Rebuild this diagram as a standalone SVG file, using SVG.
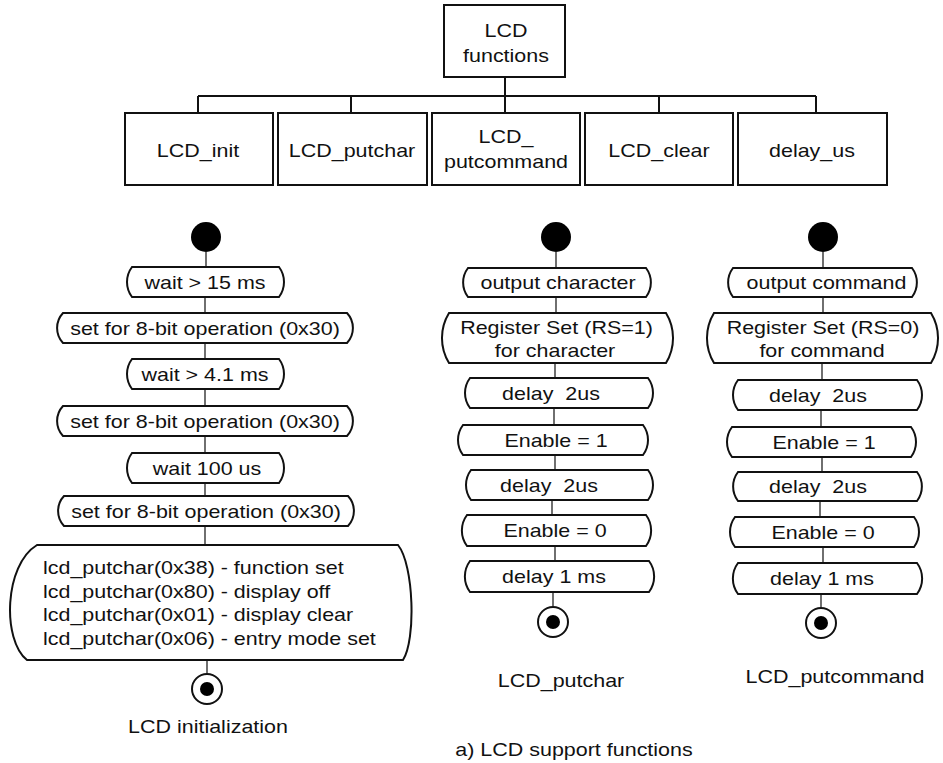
<svg xmlns="http://www.w3.org/2000/svg" width="943" height="763" viewBox="0 0 943 763">
  <style>
    text { font-family: "Liberation Sans", Arial, sans-serif; font-size: 19px; fill: #111; }
    .c { text-anchor: middle; }
    .box { fill: #fff; stroke: #111; stroke-width: 2; }
    .act { fill: #fff; stroke: #111; stroke-width: 2; }
    .link { fill: none; stroke: #111; stroke-width: 2; }
    .flow { fill: none; stroke: #111; stroke-width: 1.2; }
    .start { fill: #000; }
    .ring { fill: #fff; stroke: #111; stroke-width: 2; }
    .dot { fill: #000; }
  </style>

  <rect width="943" height="763" fill="#fff"/>

  <!-- hierarchy connectors -->
  <g id="tree-links">
    <path class="link" d="M505,77 V96 M198,96 H816 M198,96 V113 M351,96 V113 M505,96 V113 M659,96 V113 M816,96 V113"/>
  </g>

  <!-- hierarchy nodes -->
  <g id="lcd-functions">
    <rect class="box" x="444" y="5" width="121" height="72"/>
    <text class="c" transform="translate(506 37) scale(1.13 1)">LCD</text>
    <text class="c" transform="translate(506 61.5) scale(1.13 1)">functions</text>
  </g>
  <g id="lcd-init">
    <rect class="box" x="125" y="113" width="148" height="72"/>
    <text class="c" transform="translate(198 156.5) scale(1.13 1)">LCD_init</text>
  </g>
  <g id="lcd-putchar">
    <rect class="box" x="278" y="113" width="149" height="72"/>
    <text class="c" transform="translate(352 156.5) scale(1.13 1)">LCD_putchar</text>
  </g>
  <g id="lcd-putcommand">
    <rect class="box" x="432" y="113" width="148" height="72"/>
    <text class="c" transform="translate(506 142.5) scale(1.13 1)">LCD_</text>
    <text class="c" transform="translate(506 167.5) scale(1.13 1)">putcommand</text>
  </g>
  <g id="lcd-clear">
    <rect class="box" x="585" y="113" width="148" height="72"/>
    <text class="c" transform="translate(659 156.5) scale(1.13 1)">LCD_clear</text>
  </g>
  <g id="delay-us">
    <rect class="box" x="738" y="113" width="149" height="72"/>
    <text class="c" transform="translate(812 156.5) scale(1.13 1)">delay_us</text>
  </g>

  <!-- activity flow connectors -->
  <g id="flow-links">
    <path class="flow" d="M206,252 V267 M205,297 V313 M205,343 V359 M205,389 V406 M205,436 V453 M205,483 V496 M205,526 V545 M207,660 V673"/>
    <path class="flow" d="M556,252 V268 M556,297 V313 M555,363 V378 M554,408 V425 M555,455 V470 M552,500 V515 M555,546 V561 M553,592 V606"/>
    <path class="flow" d="M823,252 V268 M823,297 V313 M822,363 V380 M821,410 V427 M822,457 V472 M820,501 V517 M823,547 V563 M821,594 V607"/>
  </g>

  <!-- LCD initialization activity -->
  <g id="init-start"><circle class="start" cx="206" cy="237" r="15"/></g>
  <g id="init-wait15">
    <path class="act" d="M132,267 H279 A25,25 0 0 1 279,297 H132 A25,25 0 0 1 132,267 Z"/>
    <text class="c" transform="translate(205 288.5) scale(1.13 1)">wait &gt; 15 ms</text>
  </g>
  <g id="init-set1">
    <path class="act" d="M63,313 H347 A22,22 0 0 1 347,343 H63 A22,22 0 0 1 63,313 Z"/>
    <text class="c" transform="translate(205 334.5) scale(1.13 1)">set for 8-bit operation (0x30)</text>
  </g>
  <g id="init-wait41">
    <path class="act" d="M132,359 H279 A25,25 0 0 1 279,389 H132 A25,25 0 0 1 132,359 Z"/>
    <text class="c" transform="translate(205 380.5) scale(1.13 1)">wait &gt; 4.1 ms</text>
  </g>
  <g id="init-set2">
    <path class="act" d="M63,406 H347 A22,22 0 0 1 347,436 H63 A22,22 0 0 1 63,406 Z"/>
    <text class="c" transform="translate(205 427.5) scale(1.13 1)">set for 8-bit operation (0x30)</text>
  </g>
  <g id="init-wait100">
    <path class="act" d="M132,453 H279 A25,25 0 0 1 279,483 H132 A25,25 0 0 1 132,453 Z"/>
    <text class="c" transform="translate(207 474.5) scale(1.13 1)">wait 100 us</text>
  </g>
  <g id="init-set3">
    <path class="act" d="M64,496 H348 A22,22 0 0 1 348,526 H64 A22,22 0 0 1 64,496 Z"/>
    <text class="c" transform="translate(206 517.5) scale(1.13 1)">set for 8-bit operation (0x30)</text>
  </g>
  <g id="init-putchars">
    <path class="act" d="M37,545 H398 C414,565 416,640 403,660 H27 C2,640 4,565 37,545 Z"/>
    <text transform="translate(43 574) scale(1.13 1)">lcd_putchar(0x38) - function set</text>
    <text transform="translate(43 597.5) scale(1.13 1)">lcd_putchar(0x80) - display off</text>
    <text transform="translate(43 621) scale(1.13 1)">lcd_putchar(0x01) - display clear</text>
    <text transform="translate(43 644.5) scale(1.13 1)">lcd_putchar(0x06) - entry mode set</text>
  </g>
  <g id="init-end">
    <circle class="ring" cx="207" cy="689" r="15"/>
    <circle class="dot" cx="207" cy="689" r="7"/>
  </g>
  <g id="init-caption">
    <text class="c" transform="translate(208 733) scale(1.13 1)">LCD initialization</text>
  </g>

  <!-- LCD_putchar activity -->
  <g id="putchar-start"><circle class="start" cx="556" cy="237" r="15"/></g>
  <g id="putchar-output">
    <path class="act" d="M468,268 H646 A24,24 0 0 1 646,297 H468 A24,24 0 0 1 468,268 Z"/>
    <text class="c" transform="translate(558 289) scale(1.13 1)">output character</text>
  </g>
  <g id="putchar-rs">
    <path class="act" d="M449,313 H666 A48,48 0 0 1 666,363 H449 A48,48 0 0 1 449,313 Z"/>
    <text class="c" transform="translate(556.5 333.5) scale(1.13 1)">Register Set (RS=1)</text>
    <text class="c" transform="translate(555 357) scale(1.13 1)">for character</text>
  </g>
  <g id="putchar-delay1">
    <path class="act" d="M470,378 H648 A25,25 0 0 1 648,408 H470 A25,25 0 0 1 470,378 Z"/>
    <text class="c" xml:space="preserve" transform="translate(551 399.5) scale(1.13 1)">delay  2us</text>
  </g>
  <g id="putchar-en1">
    <path class="act" d="M463,425 H643 A25,25 0 0 1 643,455 H463 A25,25 0 0 1 463,425 Z"/>
    <text class="c" transform="translate(556 446.5) scale(1.13 1)">Enable = 1</text>
  </g>
  <g id="putchar-delay2">
    <path class="act" d="M471,470 H648 A25,25 0 0 1 648,500 H471 A25,25 0 0 1 471,470 Z"/>
    <text class="c" xml:space="preserve" transform="translate(549 491.5) scale(1.13 1)">delay  2us</text>
  </g>
  <g id="putchar-en0">
    <path class="act" d="M467,515 H646 A26,26 0 0 1 646,546 H467 A26,26 0 0 1 467,515 Z"/>
    <text class="c" transform="translate(555 537) scale(1.13 1)">Enable = 0</text>
  </g>
  <g id="putchar-delay3">
    <path class="act" d="M470,561 H649 A26,26 0 0 1 649,592 H470 A26,26 0 0 1 470,561 Z"/>
    <text class="c" transform="translate(554 583) scale(1.13 1)">delay 1 ms</text>
  </g>
  <g id="putchar-end">
    <circle class="ring" cx="553" cy="622" r="15"/>
    <circle class="dot" cx="553" cy="622" r="7"/>
  </g>
  <g id="putchar-caption">
    <text class="c" transform="translate(561 686.5) scale(1.13 1)">LCD_putchar</text>
  </g>

  <!-- LCD_putcommand activity -->
  <g id="putcmd-start"><circle class="start" cx="823" cy="237" r="15"/></g>
  <g id="putcmd-output">
    <path class="act" d="M733,268 H912 A24,24 0 0 1 912,297 H733 A24,24 0 0 1 733,268 Z"/>
    <text class="c" transform="translate(826.5 289) scale(1.13 1)">output command</text>
  </g>
  <g id="putcmd-rs">
    <path class="act" d="M714,313 H931 A48,48 0 0 1 931,363 H714 A48,48 0 0 1 714,313 Z"/>
    <text class="c" transform="translate(823 333.5) scale(1.13 1)">Register Set (RS=0)</text>
    <text class="c" transform="translate(822 357) scale(1.13 1)">for command</text>
  </g>
  <g id="putcmd-delay1">
    <path class="act" d="M738,380 H917 A25,25 0 0 1 917,410 H738 A25,25 0 0 1 738,380 Z"/>
    <text class="c" xml:space="preserve" transform="translate(818 401.5) scale(1.13 1)">delay  2us</text>
  </g>
  <g id="putcmd-en1">
    <path class="act" d="M732,427 H911 A25,25 0 0 1 911,457 H732 A25,25 0 0 1 732,427 Z"/>
    <text class="c" transform="translate(824 448.5) scale(1.13 1)">Enable = 1</text>
  </g>
  <g id="putcmd-delay2">
    <path class="act" d="M738,472 H917 A24,24 0 0 1 917,501 H738 A24,24 0 0 1 738,472 Z"/>
    <text class="c" xml:space="preserve" transform="translate(818 493) scale(1.13 1)">delay  2us</text>
  </g>
  <g id="putcmd-en0">
    <path class="act" d="M735,517 H914 A25,25 0 0 1 914,547 H735 A25,25 0 0 1 735,517 Z"/>
    <text class="c" transform="translate(823 538.5) scale(1.13 1)">Enable = 0</text>
  </g>
  <g id="putcmd-delay3">
    <path class="act" d="M738,563 H917 A26,26 0 0 1 917,594 H738 A26,26 0 0 1 738,563 Z"/>
    <text class="c" transform="translate(822 585) scale(1.13 1)">delay 1 ms</text>
  </g>
  <g id="putcmd-end">
    <circle class="ring" cx="821" cy="623" r="15"/>
    <circle class="dot" cx="821" cy="623" r="7"/>
  </g>
  <g id="putcmd-caption">
    <text class="c" transform="translate(835 682.5) scale(1.13 1)">LCD_putcommand</text>
  </g>

  <!-- figure caption -->
  <g id="caption">
    <text class="c" transform="translate(574 756) scale(1.13 1)">a) LCD support functions</text>
  </g>
</svg>
